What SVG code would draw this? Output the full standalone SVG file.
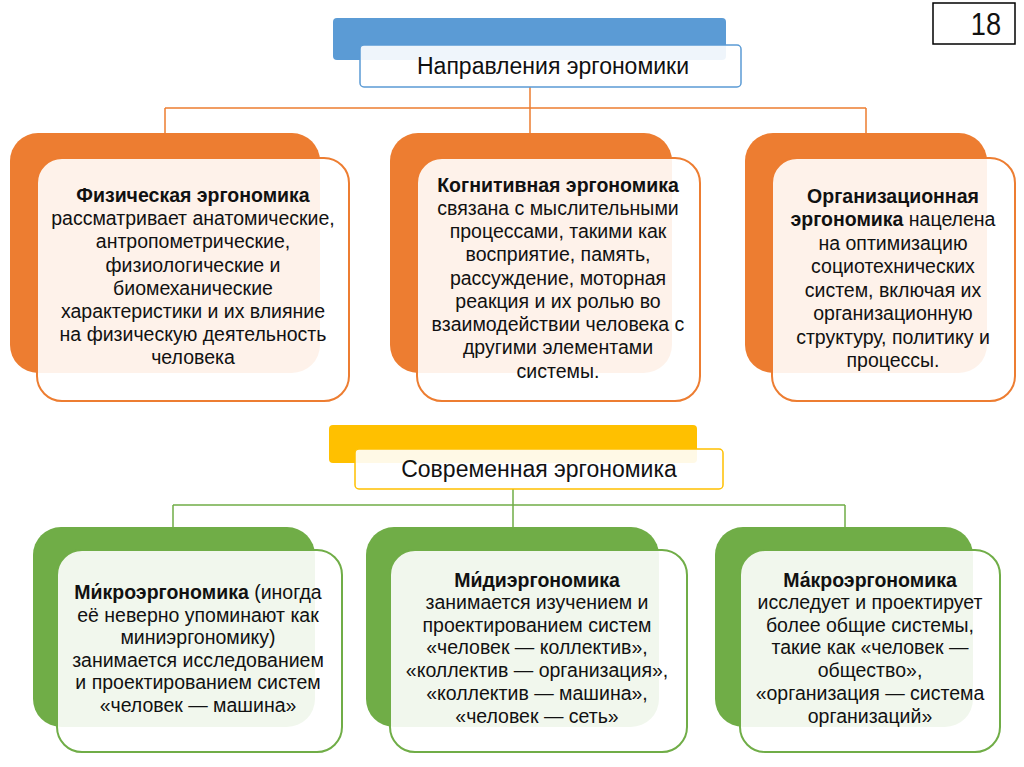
<svg xmlns="http://www.w3.org/2000/svg" width="1024" height="767" viewBox="0 0 1024 767">
<style>
  .t { font-family: "Liberation Sans", Arial, sans-serif; font-size: 19.5px; fill: #111; text-anchor: middle; }
  .b { font-weight: bold; }
  .ttl { font-family: "Liberation Sans", Arial, sans-serif; font-size: 23px; fill: #111; text-anchor: middle; }
  .front { fill: #ffffff; fill-opacity: 0.9; stroke-width: 2; }
  .o-back { fill: #ED7D31; }
  .o-front { stroke: #ED7D31; }
  .g-back { fill: #70AD47; }
  .g-front { stroke: #70AD47; }
  .conn-o { stroke: #ED7D31; stroke-width: 1.5; fill: none; }
  .conn-g { stroke: #70AD47; stroke-width: 1.5; fill: none; }
</style>
<rect width="1024" height="767" fill="#ffffff"/>

<g id="page-number">
  <rect x="933" y="3" width="82" height="41" fill="#ffffff" stroke="#000" stroke-width="1.5"/>
  <text x="0" y="0" transform="translate(986 35) scale(0.85 1)" font-family="Liberation Sans, Arial, sans-serif" font-size="32" fill="#111" text-anchor="middle">18</text>
</g>

<g id="connectors">
  <path class="conn-o" d="M530 87 V133 M165 108 H866 M165 108 V133 M866 108 V133"/>
  <path class="conn-g" d="M513 489 V527 M173 505 H845 M173 505 V527 M845 505 V527"/>
</g>

<g id="title-top">
  <rect x="333" y="18" width="393" height="42" rx="4" fill="#5B9BD5"/>
  <rect x="360" y="45" width="381" height="42" rx="4" fill="#ffffff" fill-opacity="0.9" stroke="#5B9BD5" stroke-width="1.5"/>
  <text class="ttl" x="553" y="74">Направления эргономики</text>
</g>

<g id="card-physical">
  <rect class="o-back" x="10" y="133" width="310" height="240" rx="28"/>
  <rect class="front o-front" x="37" y="158" width="312" height="243" rx="25"/>
  <text class="t b" x="193" y="202">Физическая эргономика</text>
  <text class="t" x="193" y="225">рассматривает анатомические,</text>
  <text class="t" x="193" y="248">антропометрические,</text>
  <text class="t" x="193" y="272">физиологические и</text>
  <text class="t" x="193" y="295">биомеханические</text>
  <text class="t" x="193" y="318">характеристики и их влияние</text>
  <text class="t" x="193" y="341">на физическую деятельность</text>
  <text class="t" x="193" y="364">человека</text>
</g>

<g id="card-cognitive">
  <rect class="o-back" x="390" y="133" width="282" height="240" rx="28"/>
  <rect class="front o-front" x="417" y="158" width="283" height="243" rx="25"/>
  <text class="t b" x="558" y="192">Когнитивная эргономика</text>
  <text class="t" x="558" y="215">связана с мыслительными</text>
  <text class="t" x="558" y="238">процессами, такими как</text>
  <text class="t" x="558" y="261">восприятие, память,</text>
  <text class="t" x="558" y="285">рассуждение, моторная</text>
  <text class="t" x="558" y="308">реакция и их ролью во</text>
  <text class="t" x="558" y="331">взаимодействии человека с</text>
  <text class="t" x="558" y="354">другими элементами</text>
  <text class="t" x="558" y="378">системы.</text>
</g>

<g id="card-organizational">
  <rect class="o-back" x="745" y="133" width="242" height="240" rx="28"/>
  <rect class="front o-front" x="772" y="158" width="243" height="243" rx="25"/>
  <text class="t b" x="893" y="203">Организационная</text>
  <text class="t" x="893" y="226"><tspan class="b">эргономика</tspan> нацелена</text>
  <text class="t" x="893" y="250">на оптимизацию</text>
  <text class="t" x="893" y="273">социотехнических</text>
  <text class="t" x="893" y="297">систем, включая их</text>
  <text class="t" x="893" y="320">организационную</text>
  <text class="t" x="893" y="344">структуру, политику и</text>
  <text class="t" x="893" y="367">процессы.</text>
</g>

<g id="title-modern">
  <rect x="329" y="425" width="368" height="38" rx="4" fill="#FFC000"/>
  <rect x="355" y="449" width="368" height="40" rx="4" fill="#ffffff" fill-opacity="0.9" stroke="#FFC000" stroke-width="1.5"/>
  <text class="ttl" x="539" y="477">Современная эргономика</text>
</g>

<g id="card-micro">
  <rect class="g-back" x="33" y="527" width="282" height="200" rx="28"/>
  <rect class="front g-front" x="57" y="550" width="285" height="202" rx="25"/>
  <text class="t" x="198" y="599"><tspan class="b">Ми́кроэргономика</tspan> (иногда</text>
  <text class="t" x="198" y="622">её неверно упоминают как</text>
  <text class="t" x="198" y="644">миниэргономику)</text>
  <text class="t" x="198" y="667">занимается исследованием</text>
  <text class="t" x="198" y="689">и проектированием систем</text>
  <text class="t" x="198" y="712">«человек — машина»</text>
</g>

<g id="card-midi">
  <rect class="g-back" x="366" y="527" width="293" height="200" rx="28"/>
  <rect class="front g-front" x="390" y="550" width="297" height="202" rx="25"/>
  <text class="t b" x="537" y="587">Ми́диэргономика</text>
  <text class="t" x="537" y="609">занимается изучением и</text>
  <text class="t" x="537" y="632">проектированием систем</text>
  <text class="t" x="537" y="654">«человек — коллектив»,</text>
  <text class="t" x="537" y="677">«коллектив — организация»,</text>
  <text class="t" x="537" y="700">«коллектив — машина»,</text>
  <text class="t" x="537" y="723">«человек — сеть»</text>
</g>

<g id="card-macro">
  <rect class="g-back" x="715" y="527" width="258" height="200" rx="28"/>
  <rect class="front g-front" x="740" y="550" width="260" height="202" rx="25"/>
  <text class="t b" x="870" y="587">Ма́кроэргономика</text>
  <text class="t" x="870" y="609">исследует и проектирует</text>
  <text class="t" x="870" y="632">более общие системы,</text>
  <text class="t" x="870" y="654">такие как «человек —</text>
  <text class="t" x="870" y="677">общество»,</text>
  <text class="t" x="870" y="700">«организация — система</text>
  <text class="t" x="870" y="723">организаций»</text>
</g>
</svg>
